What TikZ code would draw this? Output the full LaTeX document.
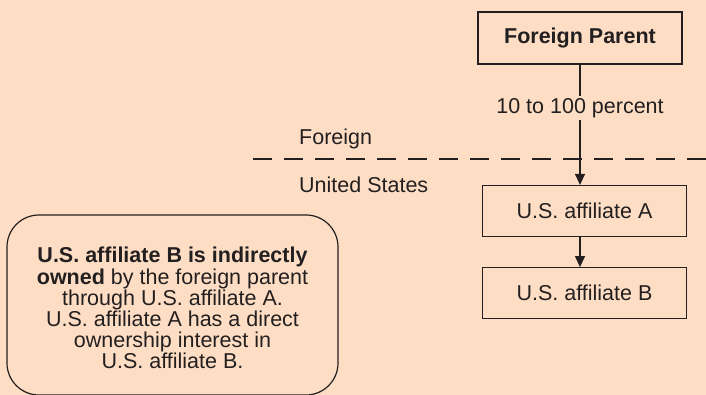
\documentclass[tikz,border=0pt]{standalone}
\usepackage{fontspec}
\setmainfont{Liberation Sans}
\usetikzlibrary
  {
    arrows.meta,              % arrow heads
    positioning,              % place nodes relative to other nodes
    calc,
  }
\definecolor{peach}{RGB}{253,222,196}
\definecolor{ink}{RGB}{35,31,32}

\begin{document}
\begin{tikzpicture}[x=1pt,y=-1pt,
    every node/.style={font=\fontsize{21.5}{21.2}\selectfont, text=ink},
    entity/.style={draw=ink, line width=1.2pt, minimum width=204pt,
      minimum height=51pt, inner sep=0},
    owns/.style={draw=ink, line width=1.2pt,
      -{Triangle[length=11pt,width=10pt]}},
    share/.style={fill=peach, inner sep=2.5pt},
    border/.style={draw=ink, line width=1.2pt, dash pattern=on 19pt off 12pt},
    side/.style={anchor=base west, inner sep=0}]
    \useasboundingbox[fill=peach] (0,0) rectangle (706,395);
    % ownership chain
    \node (parent) [entity, minimum height=52pt] at (580,38) {\bfseries Foreign Parent};
    \node (affA) [entity] at (584.5,211) {U.S. affiliate A};
    \node (affB) [entity, below=30pt of affA] {U.S. affiliate B};
    \draw[owns] (parent.south) -- node (pct) [share, pos=.36] {10 to 100 percent}
                (parent.south |- affA.north);
    \draw[owns] (parent.south |- affA.south) -- (parent.south |- affB.north);
    % border between foreign and U.S.
    \coordinate (bw) at (253,159);
    \coordinate (be) at (706,159);
    \draw[border] (bw) -- (be);
    \node (abroad) [side] at (299,145) {Foreign};
    \node (home) [side] at (299,193) {United States};
    % explanation
    \node (note) [draw=ink, line width=1.2pt, rounded corners=32pt,
                  minimum width=331pt, minimum height=180pt, align=center]
          at (172.5,305)
          {\rule{0pt}{22pt}\bfseries U.S. affiliate B is indirectly\\
           \textbf{owned} by the foreign parent\\
           through U.S. affiliate A.\\
           U.S. affiliate A has a direct\\
           ownership interest in\\
           U.S. affiliate B.};
\end{tikzpicture}
\end{document}
